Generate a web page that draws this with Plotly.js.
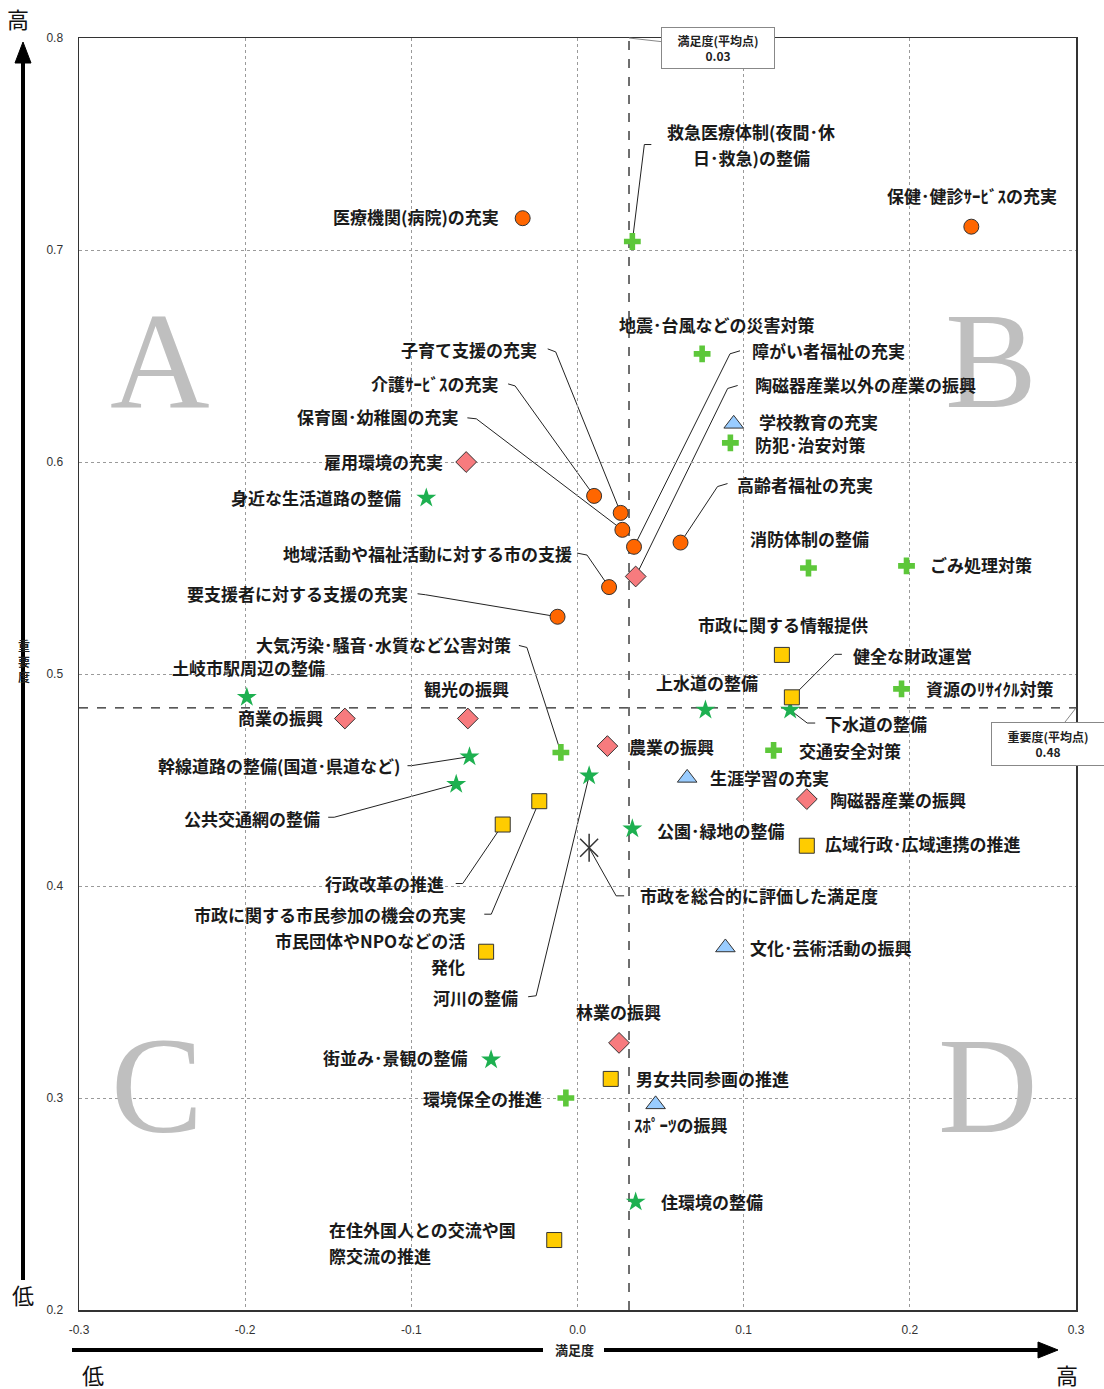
<!DOCTYPE html>
<html>
<head>
<meta charset="utf-8">
<script src="https://cdn.plot.ly/plotly-3.0.1.min.js"></script>
<style>html,body{margin:0;padding:0;background:#fff;}#chart{width:1104px;height:1389px;}</style>
</head>
<body>
<div id="chart"></div>
<script>
// ---------------- DATA (満足度 = x, 重要度 = y) ----------------
const welfareNames = ["医療機関(病院)の充実","保健･健診ｻｰﾋﾞｽの充実","子育て支援の充実","介護ｻｰﾋﾞｽの充実","保育園･幼稚園の充実","障がい者福祉の充実","高齢者福祉の充実","地域活動や福祉活動に対する市の支援","要支援者に対する支援の充実"];
const welfareSat = [-0.033, 0.237, 0.026, 0.010, 0.027, 0.034, 0.062, 0.019, -0.012];
const welfareImp = [0.715, 0.711, 0.576, 0.584, 0.568, 0.560, 0.562, 0.541, 0.527];

const industryNames = ["雇用環境の充実","陶磁器産業以外の産業の振興","商業の振興","観光の振興","農業の振興","陶磁器産業の振興","林業の振興"];
const industrySat = [-0.067, 0.035, -0.140, -0.066, 0.018, 0.138, 0.025];
const industryImp = [0.600, 0.546, 0.479, 0.479, 0.466, 0.441, 0.326];

const safetyNames = ["救急医療体制(夜間･休日･救急)の整備","地震･台風などの災害対策","防犯･治安対策","消防体制の整備","ごみ処理対策","資源のﾘｻｲｸﾙ対策","交通安全対策","大気汚染･騒音･水質など公害対策","環境保全の推進"];
const safetySat = [0.033, 0.075, 0.092, 0.139, 0.198, 0.195, 0.118, -0.010, -0.007];
const safetyImp = [0.704, 0.651, 0.609, 0.550, 0.551, 0.493, 0.464, 0.463, 0.300];

const infraNames = ["身近な生活道路の整備","土岐市駅周辺の整備","幹線道路の整備(国道･県道など)","公共交通網の整備","上水道の整備","下水道の整備","河川の整備","公園･緑地の整備","街並み･景観の整備","住環境の整備"];
const infraSat = [-0.091, -0.199, -0.065, -0.073, 0.077, 0.128, 0.007, 0.033, -0.052, 0.035];
const infraImp = [0.583, 0.489, 0.461, 0.448, 0.483, 0.483, 0.452, 0.427, 0.318, 0.251];

const educationNames = ["学校教育の充実","生涯学習の充実","文化･芸術活動の振興","ｽﾎﾟｰﾂの振興"];
const educationSat = [0.094, 0.066, 0.089, 0.047];
const educationImp = [0.618, 0.451, 0.371, 0.297];

const governanceNames = ["市政に関する情報提供","健全な財政運営","行政改革の推進","市政に関する市民参加の機会の充実","市民団体やNPOなどの活発化","広域行政･広域連携の推進","男女共同参画の推進","在住外国人との交流や国際交流の推進"];
const governanceSat = [0.123, 0.129, -0.045, -0.023, -0.055, 0.138, 0.020, -0.014];
const governanceImp = [0.509, 0.489, 0.429, 0.440, 0.369, 0.419, 0.309, 0.233];

const overallNames = ["市政を総合的に評価した満足度"];
const overallSat = [0.007];
const overallImp = [0.418];

const avgSatisfaction = 0.031;
const avgImportance = 0.484;
const avgSatText = "満足度(平均点)<br>0.03";
const avgImpText = "重要度(平均点)<br>0.48";

const xTickVals = [-0.3, -0.2, -0.1, 0.0, 0.1, 0.2, 0.3];
const xTickLabels = ["-0.3", "-0.2", "-0.1", "0.0", "0.1", "0.2", "0.3"];
const yTickVals = [0.2, 0.3, 0.4, 0.5, 0.6, 0.7, 0.8];
const yTickLabels = ["0.2", "0.3", "0.4", "0.5", "0.6", "0.7", "0.8"];

const quadrantLetters = ["A", "B", "C", "D"];
const xAxisName = "満足度";
const yAxisName = "重<br>要<br>度";
const highText = "高";
const lowText = "低";

// ---------------- LABEL PLACEMENT (screen pixel offsets from marker) ----------------
const labelPos = {
  "医療機関(病院)の充実": {a:'r', dx:-23, dy:-2},
  "保健･健診ｻｰﾋﾞｽの充実": {a:'c', dx:1, dy:-31},
  "子育て支援の充実": {a:'r', dx:-83, dy:-163, L:[[-65,-161],[-73,-164]]},
  "介護ｻｰﾋﾞｽの充実": {a:'r', dx:-94, dy:-112, L:[[-79,-110],[-86,-112]]},
  "保育園･幼稚園の充実": {a:'r', dx:-162, dy:-113, L:[[-146,-111],[-155,-112]]},
  "障がい者福祉の充実": {a:'l', dx:117, dy:-196, L:[[96,-193],[106,-196]]},
  "高齢者福祉の充実": {a:'l', dx:55, dy:-58, L:[[37,-56],[47,-59]]},
  "地域活動や福祉活動に対する市の支援": {a:'r', dx:-36, dy:-34, L:[[-22,-32],[-32,-34]]},
  "要支援者に対する支援の充実": {a:'r', dx:-149, dy:-23, L:[[-132,-22],[-140,-23]]},
  "雇用環境の充実": {a:'r', dx:-22, dy:-1},
  "陶磁器産業以外の産業の振興": {a:'l', dx:118, dy:-192, L:[[92,-188],[102,-191]]},
  "商業の振興": {a:'r', dx:-21, dy:-1},
  "観光の振興": {a:'c', dx:-1, dy:-30},
  "農業の振興": {a:'l', dx:21, dy:0},
  "陶磁器産業の振興": {a:'l', dx:22, dy:0},
  "林業の振興": {a:'c', dx:-1, dy:-31},
  "救急医療体制(夜間･休日･救急)の整備": {a:'c', dx:119, dy:-97, lines:["救急医療体制(夜間･休","日･救急)の整備"], L:[[12,-97],[19,-97]]},
  "地震･台風などの災害対策": {a:'c', dx:15, dy:-29},
  "防犯･治安対策": {a:'l', dx:24, dy:2},
  "消防体制の整備": {a:'c', dx:1, dy:-30},
  "ごみ処理対策": {a:'l', dx:22, dy:-1},
  "資源のﾘｻｲｸﾙ対策": {a:'l', dx:23, dy:0},
  "交通安全対策": {a:'l', dx:24, dy:0},
  "大気汚染･騒音･水質など公害対策": {a:'r', dx:-49, dy:-108, L:[[-34,-105],[-42,-107]]},
  "環境保全の推進": {a:'r', dx:-23, dy:0},
  "身近な生活道路の整備": {a:'r', dx:-24, dy:-1},
  "土岐市駅周辺の整備": {a:'c', dx:2, dy:-30},
  "幹線道路の整備(国道･県道など)": {a:'r', dx:-68, dy:9, L:[[-58,9],[-62,9]]},
  "公共交通網の整備": {a:'r', dx:-135, dy:34, L:[[-122,33],[-128,33]]},
  "上水道の整備": {a:'c', dx:2, dy:-28},
  "下水道の整備": {a:'l', dx:34, dy:13, L:[[17,13],[25,13]]},
  "河川の整備": {a:'r', dx:-70, dy:222, L:[[-53,220],[-61,221]]},
  "公園･緑地の整備": {a:'l', dx:24, dy:2},
  "街並み･景観の整備": {a:'r', dx:-22, dy:-2},
  "住環境の整備": {a:'l', dx:24, dy:0},
  "学校教育の充実": {a:'l', dx:24, dy:-2},
  "生涯学習の充実": {a:'l', dx:22, dy:0},
  "文化･芸術活動の振興": {a:'l', dx:24, dy:0},
  "ｽﾎﾟｰﾂの振興": {a:'c', dx:25, dy:20},
  "市政に関する情報提供": {a:'c', dx:1, dy:-30},
  "健全な財政運営": {a:'l', dx:60, dy:-42, L:[[43,-43],[50,-43]]},
  "行政改革の推進": {a:'r', dx:-58, dy:59, L:[[-40,59],[-47,59]]},
  "市政に関する市民参加の機会の充実": {a:'r', dx:-72, dy:113, L:[[-48,113],[-55,113]]},
  "市民団体やNPOなどの活発化": {a:'r', dx:-20, dy:2, lines:["市民団体やNPOなどの活","発化"]},
  "広域行政･広域連携の推進": {a:'l', dx:17, dy:-2},
  "男女共同参画の推進": {a:'l', dx:24, dy:0},
  "在住外国人との交流や国際交流の推進": {a:'l', dx:-226, dy:2, lines:["在住外国人との交流や国","際交流の推進"]},
  "市政を総合的に評価した満足度": {a:'l', dx:50, dy:48, L:[[27,48],[35,48]]}
};
const LINE_GAP = 26;

// ---------------- LAYOUT CONSTANTS ----------------
const W = 1104, H = 1389, ML = 79, MR = 28, MT = 38, MB = 79;
const PW = W - ML - MR, PH = H - MT - MB;
const pxX = v => (v - ML) / PW;
const pxY = v => (H - MB - v) / PH;
const JP = '"Noto Sans CJK JP", "Noto Sans", sans-serif';
const LABEL_SIZE = 17;
const OUT = '#333';

function markerTrace(names, xs, ys, marker) {
  return {type:'scatter', mode:'markers', x: xs, y: ys, text: names,
          marker: marker, hoverinfo:'skip', showlegend:false, cliponaxis:false};
}

const traces = [
  markerTrace(welfareNames, welfareSat, welfareImp, {symbol:'circle', size:15, color:'#FF6600', line:{color:OUT, width:1}}),
  markerTrace(industryNames, industrySat, industryImp, {symbol:'diamond', size:16, color:'#F77B7E', line:{color:OUT, width:1}}),
  markerTrace(safetyNames, safetySat, safetyImp, {symbol:'cross', size:14, color:'#5DC73A', line:{color:'#5DC73A', width:0}}),
  markerTrace(infraNames, infraSat, infraImp, {symbol:'star', size:15, color:'#1DB050', line:{color:'#1DB050', width:0}}),
  markerTrace(educationNames, educationSat, educationImp, {symbol:'triangle-up', size:17, color:'#99CCFF', line:{color:OUT, width:1}}),
  markerTrace(governanceNames, governanceSat, governanceImp, {symbol:'square', size:15, color:'#FFCC00', line:{color:OUT, width:1}}),
  markerTrace(overallNames, overallSat, overallImp, {symbol:'x-thin-open', size:18, color:OUT, line:{color:OUT, width:1.5}}),
  markerTrace(overallNames, overallSat, overallImp, {symbol:'line-ns-open', size:20, color:OUT, line:{color:OUT, width:1.5}})
];

const groups = [
  [welfareNames, welfareSat, welfareImp],
  [industryNames, industrySat, industryImp],
  [safetyNames, safetySat, safetyImp],
  [infraNames, infraSat, infraImp],
  [educationNames, educationSat, educationImp],
  [governanceNames, governanceSat, governanceImp],
  [overallNames, overallSat, overallImp]
];

const annotations = [];
const shapes = [];

// quadrant letters
const quadPos = [[160, 360], [991, 360], [157, 1085], [988, 1085]];
quadrantLetters.forEach((q, i) => {
  annotations.push({xref:'paper', yref:'paper', x: pxX(quadPos[i][0]), y: pxY(quadPos[i][1]),
    text: q, showarrow:false, xanchor:'center', yanchor:'middle',
    font:{family:'"Liberation Serif", "DejaVu Serif", serif', size:138, color:'#BFBFBF'}});
});

// average lines
shapes.push({type:'line', xref:'x', yref:'y', x0:avgSatisfaction, x1:avgSatisfaction, y0:0.2, y1:0.8,
  line:{color:'#222', width:1.3, dash:'dash'}, layer:'below'});
shapes.push({type:'line', xref:'x', yref:'y', x0:-0.3, x1:0.3, y0:avgImportance, y1:avgImportance,
  line:{color:'#222', width:1.3, dash:'dash'}, layer:'below'});

// point labels + leader lines
groups.forEach(g => {
  const [names, xs, ys] = g;
  names.forEach((n, i) => {
    const p = labelPos[n];
    if (!p) return;
    const xa = p.a === 'r' ? 'right' : (p.a === 'l' ? 'left' : 'center');
    const lines = p.lines || [n];
    lines.forEach((txt, k) => {
      const off = (k - (lines.length - 1) / 2) * LINE_GAP;
      annotations.push({xref:'x', yref:'y', x: xs[i], y: ys[i], text: txt,
        showarrow:false, xanchor: xa, yanchor:'middle', xshift: p.dx, yshift: -(p.dy + off),
        borderpad: 0,
        font:{family: JP, size: LABEL_SIZE, color:'#1a1a1a', weight: 'bold'}});
    });
    if (p.L) {
      let path = 'M0,0';
      p.L.forEach(pt => { path += ' L' + pt[0] + ',' + (-pt[1]); });
      shapes.push({type:'path', xref:'x', yref:'y', xsizemode:'pixel', ysizemode:'pixel',
        xanchor: xs[i], yanchor: ys[i], path: path, line:{color:'#222', width:1}, layer:'below'});
    }
  });
});

// callouts for averages
annotations.push({xref:'x', yref:'y', x: avgSatisfaction, y: 0.8, ax: 89, ay: 10,
  text: avgSatText, showarrow:true, arrowhead:0, arrowwidth:1, arrowcolor:'#888',
  bgcolor:'#fff', bordercolor:'#888', borderwidth:1, borderpad:3, width:106, height:34,
  font:{family: JP, size:12, color:'#222', weight:'bold'}});
annotations.push({xref:'x', yref:'y', x: 0.3, y: avgImportance, ax: -28, ay: 36,
  text: avgImpText, showarrow:true, arrowhead:0, arrowwidth:1, arrowcolor:'#888',
  bgcolor:'#fff', bordercolor:'#888', borderwidth:1, borderpad:3, width:106, height:36,
  font:{family: JP, size:12, color:'#222', weight:'bold'}});

// outer axis arrows
const blk = {color:'#000', width:4};
shapes.push({type:'line', xref:'paper', yref:'paper', x0:pxX(23), x1:pxX(23), y0:pxY(1280), y1:pxY(630), line:blk});
shapes.push({type:'line', xref:'paper', yref:'paper', x0:pxX(23), x1:pxX(23), y0:pxY(694), y1:pxY(60), line:blk});
shapes.push({type:'path', xref:'paper', yref:'paper',
  path:`M${pxX(23)},${pxY(42)} L${pxX(15)},${pxY(63)} L${pxX(31)},${pxY(63)} Z`,
  fillcolor:'#000', line:{color:'#000', width:1}});
shapes.push({type:'line', xref:'paper', yref:'paper', x0:pxX(72), x1:pxX(543), y0:pxY(1350), y1:pxY(1350), line:blk});
shapes.push({type:'line', xref:'paper', yref:'paper', x0:pxX(604), x1:pxX(1042), y0:pxY(1350), y1:pxY(1350), line:blk});
shapes.push({type:'path', xref:'paper', yref:'paper',
  path:`M${pxX(1058)},${pxY(1350)} L${pxX(1038)},${pxY(1342)} L${pxX(1038)},${pxY(1358)} Z`,
  fillcolor:'#000', line:{color:'#000', width:1}});

const bigFont = {family: JP, size:22, color:'#111'};
annotations.push({xref:'paper', yref:'paper', x:pxX(18), y:pxY(18), text:highText, showarrow:false, xanchor:'center', yanchor:'middle', font:bigFont});
annotations.push({xref:'paper', yref:'paper', x:pxX(23), y:pxY(1294), text:lowText, showarrow:false, xanchor:'center', yanchor:'middle', font:bigFont});
annotations.push({xref:'paper', yref:'paper', x:pxX(93), y:pxY(1374), text:lowText, showarrow:false, xanchor:'center', yanchor:'middle', font:bigFont});
annotations.push({xref:'paper', yref:'paper', x:pxX(1067), y:pxY(1374), text:highText, showarrow:false, xanchor:'center', yanchor:'middle', font:bigFont});
annotations.push({xref:'paper', yref:'paper', x:pxX(24), y:pxY(661), text:yAxisName, showarrow:false, xanchor:'center', yanchor:'middle', font:{family: JP, size:12, color:'#222', weight:'bold'}});
annotations.push({xref:'paper', yref:'paper', x:pxX(574), y:pxY(1349), text:xAxisName, showarrow:false, xanchor:'center', yanchor:'middle', font:{family: JP, size:13, color:'#222', weight:'bold'}});

const layout = {
  width: W, height: H,
  margin: {l: ML, r: MR, t: MT, b: MB},
  paper_bgcolor: '#fff', plot_bgcolor: '#fff',
  showlegend: false,
  xaxis: {range: [-0.3, 0.3], tickvals: xTickVals, ticktext: xTickLabels,
    showgrid: true, gridcolor: '#9a9a9a', griddash: 'dot', gridwidth: 1, zeroline: false,
    showline: true, mirror: true, linecolor: '#333', linewidth: 1.5, ticks: '',
    ticklabelstandoff: 8, tickfont: {family: '"Liberation Sans Narrow", "Liberation Sans", sans-serif', size: 12, color: '#333'}, fixedrange: true},
  yaxis: {range: [0.2, 0.8], tickvals: yTickVals, ticktext: yTickLabels,
    showgrid: true, gridcolor: '#9a9a9a', griddash: 'dot', gridwidth: 1, zeroline: false,
    showline: true, mirror: true, linecolor: '#333', linewidth: 1.5, ticks: '',
    ticklabelstandoff: 12, tickfont: {family: '"Liberation Sans Narrow", "Liberation Sans", sans-serif', size: 12, color: '#333'}, fixedrange: true},
  shapes: shapes,
  annotations: annotations
};

Plotly.newPlot('chart', traces, layout, {displayModeBar: false, staticPlot: true});
</script>
</body>
</html>
